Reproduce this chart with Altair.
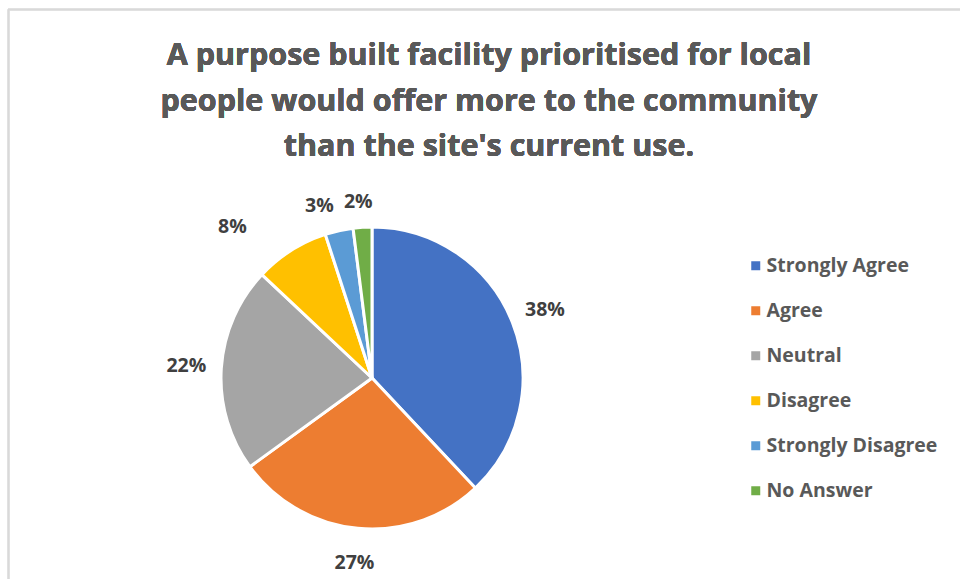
import altair as alt
import pandas as pd

categories = ["Strongly Agree", "Agree", "Neutral", "Disagree", "Strongly Disagree", "No Answer"]
values = [38, 27, 22, 8, 3, 2]
labels = ["38%", "27%", "22%", "8%", "3%", "2%"]
colors = ["#4472C4", "#ED7D31", "#A5A5A5", "#FFC000", "#5B9BD5", "#70AD47"]
title_lines = [
    "A purpose built facility prioritised for local",
    "people would offer more to the community",
    "than the site's current use.",
]

df = pd.DataFrame({"category": categories, "value": values, "label": labels,
                   "idx": list(range(len(categories)))})

CX, CY = 372, 208  # pie centre within plot area
R = 151
LR = 186
FONT = "Open Sans"

base = alt.Chart(df).encode(
    theta=alt.Theta("value:Q", stack=True),
    order=alt.Order("idx:Q", sort="ascending"),
)

pie = base.mark_arc(outerRadius=R, stroke="white", strokeWidth=3).encode(
    x=alt.value(CX), y=alt.value(CY),
    color=alt.Color("category:N", sort=categories,
                    scale=alt.Scale(domain=categories, range=colors),
                    legend=alt.Legend(orient="none", legendX=746, legendY=86, title=None,
                                      symbolType="square", symbolSize=81, symbolStrokeWidth=0,
                                      labelFont=FONT, labelFontWeight="bold", labelFontSize=19.5,
                                      labelColor="#595959", rowPadding=24, labelOffset=1,
                                      labelLimit=400, padding=0)),
)

def lbl(names, dx=0, dy=0):
    test = " || ".join([f"datum.category == '{n}'" for n in names])
    return base.mark_text(radius=LR, font=FONT, fontWeight="bold", fontSize=19.5,
                          color="#404040", dx=dx, dy=dy).encode(
        x=alt.value(CX), y=alt.value(CY),
        text=alt.condition(test, alt.Text("label:N"), alt.value("")),
    )

labels_main = lbl(["Strongly Agree", "Agree", "Neutral"])
labels_dis = lbl(["Disagree"], dx=-40, dy=6)
labels_sd = lbl(["Strongly Disagree"], dx=-12, dy=10)
labels_na = lbl(["No Answer"], dx=-2, dy=10)

frame_left = alt.Chart(df).mark_rule(color="#d9d9d9", strokeWidth=1.5).encode(
    x=alt.value(8.5), y=alt.value(-160.5), y2=alt.value(420))
frame_top = alt.Chart(df).mark_rule(color="#d9d9d9", strokeWidth=1.5).encode(
    x=alt.value(8), x2=alt.value(960), y=alt.value(-160.5))

title = alt.Chart(df).mark_text(
    font=FONT, fontSize=30.5, fontWeight="bold", color="#595959", align="center",
    baseline="alphabetic", lineHeight=45.5,
).encode(x=alt.value(489), y=alt.value(-105), text=alt.value(title_lines))

chart = alt.layer(frame_left, frame_top, title, pie, labels_main, labels_dis, labels_sd, labels_na).properties(
    width=960, height=409,
    padding={"left": 0, "top": 170, "right": 0, "bottom": 0},
    autosize=alt.AutoSizeParams(type="none"),
).configure_view(stroke=None)

chart.save("out.html", embed_options={"renderer": "svg", "actions": False})
